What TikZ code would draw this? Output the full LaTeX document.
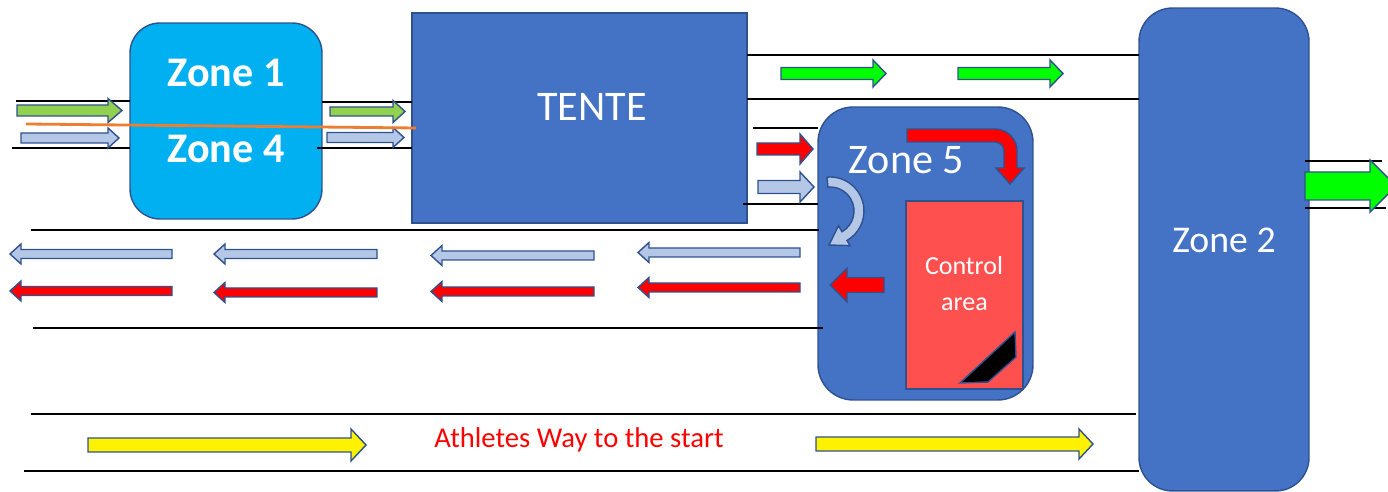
\documentclass[tikz,border=0pt]{standalone}
\usepackage{fontspec}
\setmainfont{Carlito}

\definecolor{zcyan}{HTML}{00B0F0}
\definecolor{zblue}{HTML}{4472C4}
\definecolor{zedge}{HTML}{2F528F}
\definecolor{lgreen}{HTML}{92D050}
\definecolor{lblue}{HTML}{B4C7E7}
\definecolor{fgreen}{HTML}{00FF00}
\definecolor{ctrlred}{HTML}{FF5050}
\definecolor{zorange}{HTML}{ED7D31}

\tikzset{
    zonebox/.style={draw=zedge, line width=0.8pt, fill=zblue, inner sep=0pt},
    lane/.style={black, line width=1.1pt},
    blk/.style={draw=zedge, line width=0.8pt, line join=miter},
    wtext/.style={text=white, inner sep=0pt},
}

% 块状箭头: [样式]{尾 x}{头根 x}{尖 x}{y}{杆半宽}{头半宽}
\newcommand{\blkarrow}[7][]{%
    \draw[blk,#1] (#2,#5-#6) -- (#3,#5-#6) -- (#3,#5-#7) -- (#4,#5)
        -- (#3,#5+#7) -- (#3,#5+#6) -- (#2,#5+#6) -- cycle;}

\begin{document}
\begin{tikzpicture}[x=0.02cm, y=-0.02cm]
    \useasboundingbox (0,0) rectangle (1388,492);

    % 区域方框
    \node[zonebox, fill=zcyan, rounded corners=17pt, minimum width=3.84cm, minimum height=3.92cm] (z14) at (226,121) {};
    \node[zonebox, minimum width=6.7cm, minimum height=4.2cm] (tente) at (579.5,118) {};
    \node[zonebox, rounded corners=19pt, minimum width=3.4cm, minimum height=9.66cm] (z2) at (1224,249.5) {};
    \node[zonebox, rounded corners=20pt, minimum width=4.3cm, minimum height=5.86cm] (z5) at (925.5,253.5) {};
    \node[zonebox, fill=ctrlred, minimum width=2.34cm, minimum height=3.76cm] (ctrl) at (964.5,295) {};

    % 通道边线
    \draw[lane] (16,101) -- (130,101);
    \draw[lane] (12,148) -- (130,148);
    \draw[lane] (322,102) -- (412,102);
    \draw[lane] (317,148) -- (412,148);
    \draw[lane] (747,55) -- (1139,55);
    \draw[lane] (747,99) -- (1139,99);
    \draw[lane] (753,128) -- (818,128);
    \draw[lane] (743,204) -- (818,204);
    \draw[lane] (31,230) -- (819,230);
    \draw[lane] (33,328) -- (823,328);
    \draw[lane] (31,414) -- (1136,414);
    \draw[lane] (24,471) -- (1139,471);
    \draw[lane] (1305,161) -- (1382,161);
    \draw[lane] (1305,208) -- (1386,208);

    % 入口箭头
    \blkarrow[fill=lgreen]{17}{108}{122}{110.5}{5.5}{12}
    \blkarrow[fill=lblue]{21}{108}{119}{138}{5}{10}
    \blkarrow[fill=lgreen]{330}{393}{405}{111.5}{4.5}{11}
    \blkarrow[fill=lblue]{327}{393}{404}{137.5}{5}{10}

    % TENTE 右侧
    \blkarrow[fill=fgreen]{781}{873}{886}{73.5}{6}{13.5}
    \blkarrow[fill=fgreen]{958}{1050}{1063}{73.5}{6}{13.5}
    \blkarrow[fill=red]{757}{800}{813}{149}{6}{15}
    \blkarrow[fill=lblue]{758}{800}{814}{187}{6.5}{15}

    % 返回箭头
    \foreach \xa/\xb/\ya/\yb in {172/10/254/291, 377/214/254/292.5, 594/431/255.5/291.5, 800/638/252.5/287.5} {
        \blkarrow[fill=lblue]{\xa}{\xb+11}{\xb}{\ya}{4.5}{10}
        \blkarrow[fill=red]{\xa}{\xb+11}{\xb}{\yb}{4.5}{10}
    }

    % Zone 5 内部
    \blkarrow[fill=red]{884}{847}{830}{285}{7.5}{17}
    \draw[blk, fill=red] (907,129) -- (995,129) arc[start angle=-90, end angle=0, radius=22]
        -- (1017,168) -- (1024,168) -- (1010,184) -- (996,168) -- (1004,168) -- (1004,151)
        arc[start angle=0, end angle=-90, radius=9] -- (907,142) -- cycle;
    \draw[blk, fill=lblue, shift={(830,211)}] (-95:34) arc[start angle=-95, end angle=60, radius=34]
        -- (60:40) -- (-1,34) -- (60:17) -- (60:24) arc[start angle=60, end angle=-95, radius=24] -- cycle;
    \draw[blk, fill=black] (960,383) -- (1015,332) -- (1016,357) -- (988,382) -- cycle;

    % 出口与运动员通道
    \blkarrow[fill=fgreen]{1305}{1370}{1396}{186}{14}{26}
    \blkarrow[fill=yellow]{88}{351}{366}{445}{7}{16}
    \blkarrow[fill=yellow]{816}{1079}{1093}{444}{7}{15}

    \draw[zorange, line width=1.6pt] (26,124) -- (416,128);

    % 文字
    \node[wtext, font=\bfseries\fontsize{24}{28}\selectfont] (lz1) at (226,73) {Zone 1};
    \node[wtext, font=\bfseries\fontsize{24}{28}\selectfont] (lz4) at (226,149) {Zone 4};
    \node[wtext, font=\fontsize{24}{28}\selectfont] (ltente) at (592,106.5) {TENTE};
    \node[wtext, font=\fontsize{24}{28}\selectfont] (lz5) at (906.5,160.5) {Zone 5};
    \node[wtext, font=\fontsize{21.5}{26}\selectfont] (lz2) at (1224,240) {Zone 2};
    \node[wtext, font=\fontsize{14.8}{18}\selectfont, anchor=base] (lctrl) at (964,275) {Control};
    \node[wtext, font=\fontsize{14.8}{18}\selectfont, anchor=base] (larea) at (964.5,311) {area};
    \node[text=red, inner sep=0pt, font=\fontsize{16.3}{20}\selectfont, anchor=base] (lway) at (579,448) {Athletes Way to the start};
\end{tikzpicture}
\end{document}
